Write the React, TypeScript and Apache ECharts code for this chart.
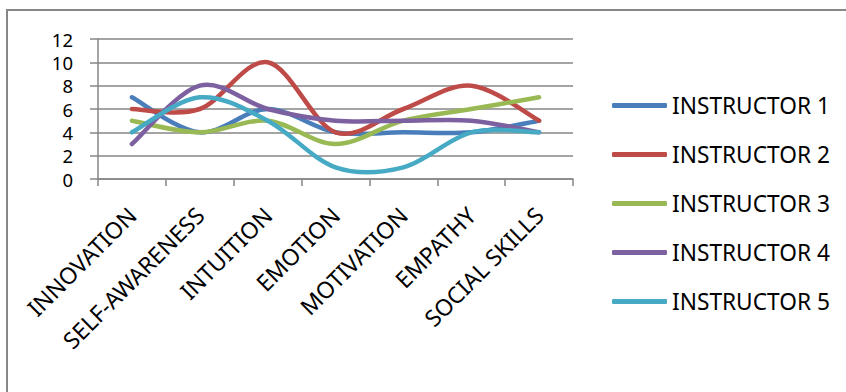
import React, { useEffect, useRef } from "react";
import * as echarts from "echarts";

const categories = ["INNOVATION", "SELF-AWARENESS", "INTUITION", "EMOTION", "MOTIVATION", "EMPATHY", "SOCIAL SKILLS"];
const seriesNames = ["INSTRUCTOR 1", "INSTRUCTOR 2", "INSTRUCTOR 3", "INSTRUCTOR 4", "INSTRUCTOR 5"];
const instructor1 = [7, 4, 6, 4, 4, 4, 5];
const instructor2 = [6, 6, 10, 4, 6, 8, 5];
const instructor3 = [5, 4, 5, 3, 5, 6, 7];
const instructor4 = [3, 8, 6, 5, 5, 5, 4];
const instructor5 = [4, 7, 5, 1, 1, 4, 4];
const seriesColors = ["#4A7EBB", "#BE4B48", "#98B954", "#7D60A0", "#46AAC5"];
const yTicks = { min: 0, max: 12, interval: 2 };

const FONT = "'Noto Sans', sans-serif";

// Excel-like smoothing (Catmull-Rom as cubic Bezier) through points given by the axis scales
function smoothPath(pts: number[][]): string {
  if (pts.length === 0) return "";
  let d = `M${pts[0][0]},${pts[0][1]}`;
  for (let i = 0; i < pts.length - 1; i++) {
    const p0 = pts[i - 1] || pts[i];
    const p1 = pts[i];
    const p2 = pts[i + 1];
    const p3 = pts[i + 2] || pts[i + 1];
    const c1x = p1[0] + (p2[0] - p0[0]) / 6;
    const c1y = p1[1] + (p2[1] - p0[1]) / 6;
    const c2x = p2[0] - (p3[0] - p1[0]) / 6;
    const c2y = p2[1] - (p3[1] - p1[1]) / 6;
    d += ` C${c1x},${c1y} ${c2x},${c2y} ${p2[0]},${p2[1]}`;
  }
  return d;
}

export default function App() {
  const ref = useRef<HTMLDivElement>(null);
  useEffect(() => {
    if (!ref.current) return;
    const chart = echarts.init(ref.current, undefined, { renderer: "svg" });
    const allData = [instructor1, instructor2, instructor3, instructor4, instructor5];
    chart.setOption({
      animation: false,
      backgroundColor: "#ffffff",
      textStyle: { fontFamily: FONT },
      graphic: [
        {
          type: "rect",
          shape: { x: 7, y: 10, width: 900, height: 500 },
          style: { fill: "none", stroke: "#878787", lineWidth: 2 },
          silent: true,
        },
      ],
      grid: { left: 98, right: 273, top: 39, bottom: 213, containLabel: false },
      legend: {
        orient: "vertical",
        left: 612,
        top: 94,
        padding: 0,
        icon: "roundRect",
        itemWidth: 55,
        itemHeight: 5,
        itemGap: 26,
        textStyle: { fontFamily: FONT, fontSize: 22.7, color: "#000" },
        data: seriesNames,
      },
      xAxis: {
        type: "category",
        data: categories,
        boundaryGap: true,
        axisLine: { show: true, lineStyle: { color: "#868686", width: 1.5 } },
        axisTick: { show: true, length: 7, alignWithLabel: false, lineStyle: { color: "#868686", width: 1.5 } },
        axisLabel: {
          interval: 0,
          rotate: 45,
          margin: 32,
          align: "right",
          verticalAlign: "middle",
          fontFamily: FONT,
          fontSize: 23,
          color: "#000",
        },
        splitLine: { show: false },
      },
      yAxis: {
        type: "value",
        min: yTicks.min,
        max: yTicks.max,
        interval: yTicks.interval,
        axisLine: { show: true, lineStyle: { color: "#868686", width: 1.5 } },
        axisTick: { show: true, length: 8, lineStyle: { color: "#868686", width: 1.5 } },
        axisLabel: { margin: 25, fontFamily: FONT, fontSize: 18.5, color: "#000" },
        splitLine: { show: true, lineStyle: { color: "#868686", width: 1.5 } },
      },
      series: seriesNames.map((name, i) => ({
        name,
        type: "custom",
        coordinateSystem: "cartesian2d",
        color: seriesColors[i],
        itemStyle: { color: seriesColors[i] },
        encode: { x: 0, y: 1 },
        data: allData[i].map((v, j) => [j, v]),
        renderItem: (params: any, api: any) => {
          if (params.dataIndex !== 0) return null;
          const pts = allData[i].map((v, j) => api.coord([j, v]));
          return {
            type: "path",
            shape: { pathData: smoothPath(pts) },
            style: {
              fill: "none",
              stroke: seriesColors[i],
              lineWidth: 4.5,
              lineCap: "round",
              lineJoin: "round",
            },
          };
        },
      })),
    });
    return () => chart.dispose();
  }, []);
  return (
    <div
      ref={ref}
      style={{ position: "fixed", left: 0, top: 0, width: 846, height: 392 }}
    />
  );
}
